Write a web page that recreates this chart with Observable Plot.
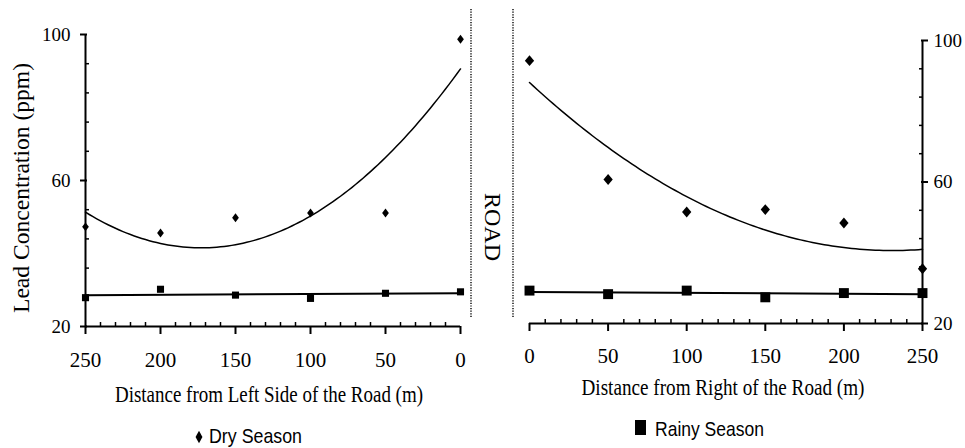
<!DOCTYPE html>
<html><head><meta charset="utf-8">
<script src="https://cdn.jsdelivr.net/npm/d3@7"></script>
<script src="https://cdn.jsdelivr.net/npm/@observablehq/plot@0.6"></script>
<style>
html,body{margin:0;padding:0;background:#fff;}
#wrap{position:relative;width:965px;height:448px;overflow:hidden;background:#fff;}
#left,#right{position:absolute;top:0;}
#left{left:0px;}
#right{left:480px;}
#overlay{position:absolute;left:0;top:0;pointer-events:none;}
</style></head>
<body>
<div id="wrap">
  <div id="left"></div>
  <div id="right"></div>
  <svg id="overlay" width="965" height="448"></svg>
</div>
<script>
// ---- data ----
const distances = [0, 50, 100, 150, 200, 250];
const leftDry    = [98.7, 51.1, 51.1, 49.8, 45.6, 47.3];
const leftRainy  = [29.5, 29.1, 27.7, 28.6, 30.2, 27.9];
const rightDry   = [94.3, 60.7, 51.5, 52.2, 48.4, 35.5];
const rightRainy = [29.3, 28.3, 29.3, 27.4, 28.6, 28.6];
const yTicks = [20, 60, 100];
const yMinorTicks = [28, 36, 44, 52, 68, 76, 84, 92];
const xTicks = [0, 50, 100, 150, 200, 250];
const xMinorTicks = [10, 20, 30, 40, 60, 70, 80, 90, 110, 120, 130, 140, 160, 170, 180, 190, 210, 220, 230, 240];
const leftTitle = "Distance from Left Side of the Road (m)";
const rightTitle = "Distance from Right of the Road (m)";
const yTitle = "Lead Concentration (ppm)";
const roadLabel = "ROAD";
const seriesNames = ["Dry Season", "Rainy Season"];

// least-squares polynomial trendline (as in the spreadsheet chart)
function polyfit(xs, ys, deg) {
  const n = deg + 1, s = 50;
  const X = xs.map(x => x / s);
  const A = Array.from({length: n}, (_, i) => Array.from({length: n}, (_, j) => d3.sum(X, x => x ** (i + j))));
  const b = Array.from({length: n}, (_, i) => d3.sum(X.map((x, k) => x ** i * ys[k])));
  for (let c = 0; c < n; c++) {
    for (let r = c + 1; r < n; r++) {
      const f = A[r][c] / A[c][c];
      for (let k = c; k < n; k++) A[r][k] -= f * A[c][k];
      b[r] -= f * b[c];
    }
  }
  const coef = Array(n).fill(0);
  for (let r = n - 1; r >= 0; r--) {
    let v = b[r];
    for (let k = r + 1; k < n; k++) v -= A[r][k] * coef[k];
    coef[r] = v / A[r][r];
  }
  return x => coef.reduce((acc, c, i) => acc + c * (x / s) ** i, 0);
}
const rows = vals => distances.map((d, i) => ({d, v: vals[i]}));
const curve = (f) => d3.range(0, 250.001, 2.5).map(d => ({d, v: f(d)}));

// custom symbols
const tallDiamond = (ratio) => ({draw(ctx, size) {
  const h = Math.sqrt(size) * 0.7, w = h * ratio;
  ctx.moveTo(0, -h); ctx.lineTo(w, 0); ctx.lineTo(0, h); ctx.lineTo(-w, 0); ctx.closePath();
}});

function panel({dry, rainy, reverse, anchor, width, ml, mr, mt, mb, dR, sR, labelPad, yPad}) {
  const height = 410;
  const fDry = polyfit(distances, dry, 2);
  const fRain = polyfit(distances, rainy, 1);
  const edge = reverse ? 250 : 250;
  return Plot.plot({
    width, height,
    marginLeft: ml, marginRight: mr, marginTop: mt, marginBottom: mb,
    style: {fontFamily: "'Liberation Serif','Times New Roman',serif", color: "black", background: "transparent", overflow: "visible"},
    x: {domain: reverse ? [250, 0] : [0, 250], axis: null},
    y: {domain: [20, 100], axis: null},
    marks: [
      // axis lines
      Plot.ruleX([edge], {stroke: "black", strokeWidth: 2}),
      Plot.ruleY([20], {stroke: "black", strokeWidth: 2}),
      // y axis ticks
      Plot.axisY(yTicks, {anchor, tickSize: 7, insetLeft: 2, insetRight: 2, strokeWidth: 2, fill: "none", label: null}),
      Plot.axisY(yMinorTicks, {anchor, tickSize: 4, insetLeft: 4, insetRight: 4, strokeWidth: 1.5, fill: "none", label: null}),
      Plot.axisY(yTicks, {anchor, tickSize: 0, tickPadding: yPad, fontSize: 19, label: null}),
      // x axis ticks
      Plot.axisX(xTicks, {anchor: "bottom", tickSize: 8, strokeWidth: 2, fill: "none", label: null}),
      Plot.axisX(xMinorTicks, {anchor: "bottom", tickSize: 4, insetBottom: 4, strokeWidth: 1.5, fill: "none", label: null}),
      Plot.axisX(xTicks, {anchor: "bottom", tickSize: 0, tickPadding: labelPad, fontSize: 21, label: null}),
      // trendlines
      Plot.line(curve(fDry), {x: "d", y: "v", stroke: "black", strokeWidth: 1.5}),
      Plot.line([{d: 0, v: fRain(0)}, {d: 250, v: fRain(250)}], {x: "d", y: "v", stroke: "black", strokeWidth: 2}),
      // points
      Plot.dot(rows(dry), {x: "d", y: "v", symbol: tallDiamond(dR.ratio), r: dR.r, fill: "black", stroke: "none"}),
      Plot.dot(rows(rainy), {x: "d", y: "v", symbol: "square", r: sR, fill: "black", stroke: "none"})
    ]
  });
}

document.getElementById("left").append(panel({
  dry: leftDry, rainy: leftRainy, reverse: true, anchor: "left",
  width: 480, ml: 85, mr: 20, mt: 34, mb: 84,
  dR: {r: 3.6, ratio: 0.75}, sR: 4, labelPad: 26, yPad: 15
}));
document.getElementById("right").append(panel({
  dry: rightDry, rainy: rightRainy, reverse: false, anchor: "right",
  width: 485, ml: 49, mr: 43, mt: 40, mb: 87,
  dR: {r: 4.4, ratio: 0.85}, sR: 5.6, labelPad: 25, yPad: 11
}));

// ---- overlay: separators, titles, legend ----
const ov = d3.select("#overlay");
const serif = "'Liberation Serif','Times New Roman',serif";
const sans = "'Liberation Sans',Arial,sans-serif";
[471, 513].forEach(x => {
  ov.append("line").attr("x1", x).attr("x2", x).attr("y1", 9).attr("y2", 318)
    .attr("stroke", "black").attr("stroke-width", 1.4).attr("stroke-dasharray", "1.2 1.4");
});
ov.append("text").attr("transform", "translate(493,227) rotate(90)")
  .attr("text-anchor", "middle").attr("dominant-baseline", "central")
  .attr("font-family", serif).attr("font-size", 24).text(roadLabel);
ov.append("text").attr("transform", "translate(29,188) rotate(-90)")
  .attr("text-anchor", "middle").attr("font-family", serif).attr("font-size", 23)
  .attr("textLength", 250).attr("lengthAdjust", "spacingAndGlyphs").text(yTitle);
ov.append("text").attr("x", 269).attr("y", 402).attr("text-anchor", "middle")
  .attr("font-family", serif).attr("font-size", 24)
  .attr("textLength", 308).attr("lengthAdjust", "spacingAndGlyphs").text(leftTitle);
ov.append("text").attr("x", 723).attr("y", 395).attr("text-anchor", "middle")
  .attr("font-family", serif).attr("font-size", 24)
  .attr("textLength", 283).attr("lengthAdjust", "spacingAndGlyphs").text(rightTitle);
// legend
ov.append("path").attr("transform", "translate(199,437)")
  .attr("d", d3.symbol(tallDiamond(0.55), 80)()).attr("fill", "black");
ov.append("text").attr("x", 209).attr("y", 443).attr("font-family", sans).attr("font-size", 21)
  .attr("textLength", 93).attr("lengthAdjust", "spacingAndGlyphs").text(seriesNames[0]);
ov.append("rect").attr("x", 635).attr("y", 420).attr("width", 11).attr("height", 15).attr("fill", "black");
ov.append("text").attr("x", 655).attr("y", 436).attr("font-family", sans).attr("font-size", 21)
  .attr("textLength", 109).attr("lengthAdjust", "spacingAndGlyphs").text(seriesNames[1]);
</script>
</body></html>
